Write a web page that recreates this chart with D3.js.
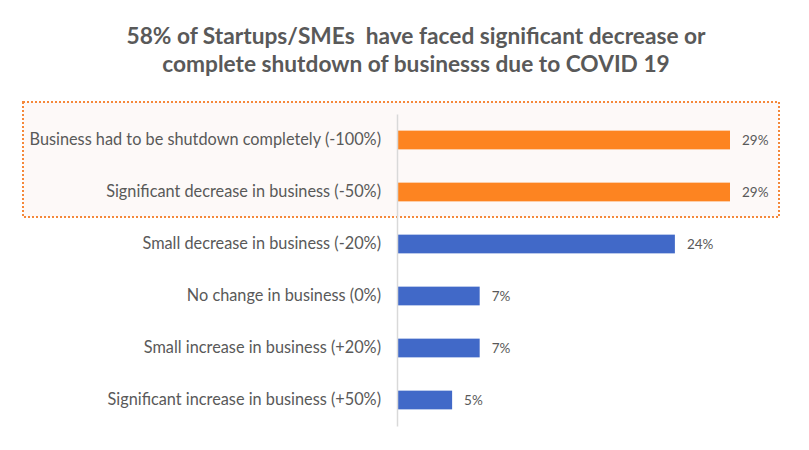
<!DOCTYPE html>
<html><head><meta charset="utf-8">
<script src="https://cdn.jsdelivr.net/npm/d3@7"></script>
<style>body{margin:0;background:#fff;}svg{display:block;}</style>
</head><body>
<script>
const titleLines = ["58% of Startups/SMEs  have faced significant decrease or", "complete shutdown of businesss due to COVID 19"];
const categories = [
  "Business had to be shutdown completely (-100%)",
  "Significant decrease in business (-50%)",
  "Small decrease in business (-20%)",
  "No change in business (0%)",
  "Small increase in business (+20%)",
  "Significant increase in business (+50%)"
];
const values = [29, 29, 24.2, 7.2, 7.2, 4.8];
const valueLabels = ["29%", "29%", "24%", "7%", "7%", "5%"];
const highlighted = [true, true, false, false, false, false];

const W = 809, H = 450;
const svg = d3.select("body").append("svg").attr("width", W).attr("height", H);
const font = "Lato, 'Open Sans', sans-serif";

const x = d3.scaleLinear().domain([0, 29]).range([397, 730]);
const y = d3.scaleBand().domain(categories).range([114, 426]).paddingInner(0.64).paddingOuter(0.32);

// highlight box
svg.append("rect")
  .attr("x", 23).attr("y", 102).attr("width", 756).attr("height", 115)
  .attr("fill", "#fdf9f8").attr("stroke", "#f5883a").attr("stroke-width", 2)
  .attr("stroke-dasharray", "2,2");

// title
svg.append("g").selectAll("text").data(titleLines).join("text")
  .attr("x", 416).attr("y", (d, i) => 44 + i * 28)
  .attr("text-anchor", "middle")
  .attr("font-family", font).attr("font-weight", "bold").attr("font-size", 22.7)
  .attr("fill", "#595959").style("white-space", "pre").text(d => d);

// bars
svg.append("g").selectAll("rect").data(values).join("rect")
  .attr("x", x(0)).attr("y", (d, i) => y(categories[i]))
  .attr("width", d => x(d) - x(0)).attr("height", y.bandwidth())
  .attr("fill", (d, i) => highlighted[i] ? "#fd8421" : "#4169c8");

// axis line
const axis = d3.axisLeft(y).tickSize(0).tickPadding(16);
const ag = svg.append("g").attr("transform", `translate(${x(0)},0)`).call(axis);
ag.select(".domain").attr("stroke", "#d9d9d9").attr("stroke-width", 1.5);
ag.selectAll("text").attr("font-family", font).attr("font-size", 16.3).attr("fill", "#595959");

// value labels
svg.append("g").selectAll("text").data(values).join("text")
  .attr("x", d => x(d) + 12).attr("y", (d, i) => y(categories[i]) + y.bandwidth() / 2)
  .attr("dy", "0.35em")
  .attr("font-family", font).attr("font-size", 13.5).attr("fill", "#595959")
  .text((d, i) => valueLabels[i]);
</script>
</body></html>
